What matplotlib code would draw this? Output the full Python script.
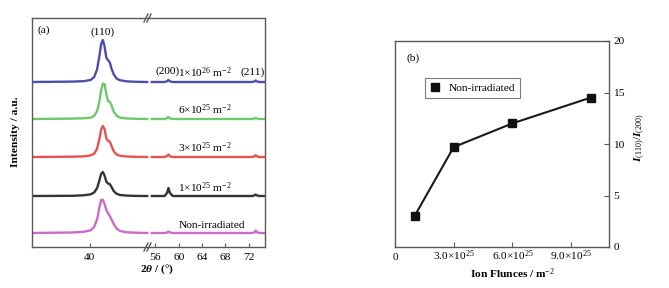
import matplotlib
matplotlib.use("Agg")
import matplotlib.pyplot as plt
from matplotlib.lines import Line2D

plt.rcParams['font.family'] = ['Liberation Serif', 'DejaVu Serif']
plt.rcParams['mathtext.fontset'] = 'custom'
plt.rcParams['mathtext.rm'] = 'Liberation Serif'
plt.rcParams['mathtext.it'] = 'Liberation Serif:italic'
plt.rcParams['mathtext.bf'] = 'Liberation Serif:bold'
plt.rcParams['mathtext.bfit'] = 'Liberation Serif:italic:bold'

# ---------------- data: panel (a) XRD patterns ----------------
two_theta_left = [30, 37, 39, 40.2, 40.8, 41.3, 41.7, 42.0, 42.3, 42.6, 42.9, 43.2,
                  43.5, 43.8, 44.2, 44.7, 45.3, 46.5, 48, 50]
two_theta_right = [55.4, 57.6, 58.0, 58.25, 58.5, 59.0, 72.6, 73.0, 73.2, 73.4, 73.8, 74.8]

series_names = ["1×10$^{26}$ m$^{-2}$", "6×10$^{25}$ m$^{-2}$", "3×10$^{25}$ m$^{-2}$",
                "1×10$^{25}$ m$^{-2}$", "Non-irradiated"]

int_1e26_left = [0, 0.4, 0.8, 2.1, 5, 12.6, 26, 37.8, 42, 35.7, 24.4, 21.8, 19.7, 13.4, 7.6, 3.4, 1.7, 0.6, 0.2, 0]
int_6e25_left = [0, 0.4, 0.7, 1.4, 3.2, 7.9, 17.3, 28.8, 35.3, 34.9, 25.2, 18, 17.3, 13.7, 7.2, 3.2, 1.4, 0.5, 0.2, 0]
int_3e25_left = [0, 0.3, 0.6, 1.6, 3.4, 8.4, 18, 27.3, 31, 27.9, 18.6, 16.1, 15.5, 11.2, 5.6, 2.5, 1.2, 0.5, 0.2, 0]
int_1e25_left = [0, 0.2, 0.7, 1.7, 3.6, 7.9, 15.6, 22.1, 24, 20.4, 14.4, 12.5, 12, 9.1, 4.8, 2.2, 1, 0.4, 0.1, 0]
int_non_left = [0, 0.5, 1.2, 2.7, 6.1, 13.6, 25.5, 33, 33.3, 28.9, 23.1, 19.7, 17, 13.6, 8.8, 4.4, 2, 0.7, 0.3, 0]

int_1e26_right = [0, 0, 0.8, 2, 0.6, 0, 0, 0.6, 1.5, 0.6, 0, 0]
int_6e25_right = [0, 0, 0.8, 2, 0.6, 0, 0, 0.5, 1.2, 0.5, 0, 0]
int_3e25_right = [0, 0, 1.0, 2.5, 0.8, 0, 0, 0.7, 1.8, 0.7, 0, 0]
int_1e25_right = [0, 0, 3.0, 8.0, 3.0, 0, 0, 0.6, 1.5, 0.6, 0, 0]
int_non_right = [0, 0, 0.5, 1.5, 0.5, 0, 0, 0.8, 2.5, 0.8, 0, 0]

offsets = [165, 128, 90, 51, 14]

ticks_left = [40]
ticks_right = [56, 60, 64, 68, 72]

# ---------------- data: panel (b) ratio ----------------
fluence = [1e25, 3e25, 6e25, 1e26]
ratio = [3.0, 9.7, 12.0, 14.5]
b_xticks = [0, 3e25, 6e25, 9e25]
b_xticklabels = ["0", "3.0×10$^{25}$", "6.0×10$^{25}$", "9.0×10$^{25}$"]
b_yticks = [0, 5, 10, 15, 20]

# ---------------- styling ----------------
W, H = 669, 288
fig = plt.figure(figsize=(W / 100, H / 100), dpi=100)

def fx(px):
    return px / W

def fy(py):
    return 1 - py / H

colors = ["#3b3aa6", "#5ec35a", "#e0413e", "#1e1e1e", "#c55cc0"]
spine_col = "#5a5a5a"
fs = 8.2

axL = fig.add_axes([fx(32), fy(247), fx(149.5 - 32), (247 - 18) / H])
axR = fig.add_axes([fx(149.5), fy(247), fx(265 - 149.5), (247 - 18) / H])

lefts = [int_1e26_left, int_6e25_left, int_3e25_left, int_1e25_left, int_non_left]
rights = [int_1e26_right, int_6e25_right, int_3e25_right, int_1e25_right, int_non_right]
for yl, yr, off, c in zip(lefts, rights, offsets, colors):
    axL.plot(two_theta_left, [v + off for v in yl], color=c, lw=1.7, alpha=0.9)
    axR.plot(two_theta_right, [v + off for v in yr], color=c, lw=1.7, alpha=0.9)

axL.set_xlim(30, 50.4)
axR.set_xlim(55.0, 74.8)
for ax in (axL, axR):
    ax.set_ylim(0, 229)
    ax.set_yticks([])
    for s in ax.spines.values():
        s.set_color(spine_col)
        s.set_linewidth(1.0)
    ax.tick_params(axis='x', direction='in', length=3, width=0.8, color=spine_col,
                   labelsize=fs, pad=4)
axL.spines['right'].set_visible(False)
axR.spines['left'].set_visible(False)
axL.set_xticks(ticks_left)
axR.set_xticks(ticks_right)

# break marks
for yb in (18, 247):
    for dx in (-2, 1):
        fig.add_artist(Line2D([fx(146 + dx), fx(150 + dx)], [fy(yb + 4), fy(yb - 4)],
                              color=spine_col, lw=1.0))

fig.text(fx(37), fy(30), "(a)", fontsize=fs, ha='left', va='center')
fig.text(fx(103), fy(32), "(110)", fontsize=fs, ha='center', va='center')
fig.text(fx(168), fy(71), "(200)", fontsize=fs, ha='center', va='center')
fig.text(fx(253), fy(72), "(211)", fontsize=fs, ha='center', va='center')
label_pos = [(205, 73), (205, 110), (205, 148), (205, 188), (212, 225)]
for name, (px, py) in zip(series_names, label_pos):
    fig.text(fx(px), fy(py), name, fontsize=fs, ha='center', va='center')

fig.text(fx(15), fy(132), "Intensity / a.u.", fontsize=fs, fontweight='bold',
         rotation=90, ha='center', va='center')
fig.text(fx(157), fy(269), r"$\mathbf{2}\mathbfit{\theta}\mathbf{\ /\ (°)}$", fontsize=fs,
         ha='center', va='center')

# ---------------- panel (b) ----------------
axb = fig.add_axes([fx(395), fy(247), fx(609 - 395), (247 - 41) / H])
axb.plot(fluence, ratio, color='#1a1a1a', lw=1.5, marker='s', markersize=6,
         markerfacecolor='#111111', markeredgecolor='#111111', label='Non-irradiated')
axb.set_xlim(0, 1.094e26)
axb.set_ylim(0, 20)
axb.set_xticks(b_xticks, b_xticklabels)
axb.set_yticks(b_yticks)
axb.yaxis.tick_right()
axb.yaxis.set_label_position('right')
for s in axb.spines.values():
    s.set_color(spine_col)
    s.set_linewidth(1.0)
axb.tick_params(axis='both', direction='in', length=3.5, width=0.8, color=spine_col,
                labelsize=fs)
axb.tick_params(axis='x', pad=9.5)
axb.tick_params(axis='y', pad=3)
for lbl in axb.get_xticklabels():
    lbl.set_va('baseline')
leg = axb.legend(loc='upper left', bbox_to_anchor=((425 - 395) / 214, (247 - 78) / 206),
                 fontsize=fs, frameon=True, fancybox=False, edgecolor=spine_col,
                 handlelength=0.8, handletextpad=0.8, borderpad=0.45, borderaxespad=0,
                 markerscale=0.9)
leg.get_frame().set_linewidth(0.8)
for h in leg.legend_handles:
    h.set_linestyle('none')
fig.text(fx(413), fy(58), "(b)", fontsize=fs, ha='center', va='center')
fig.text(fx(513), fy(274), "Ion Flunces / m$^{-2}$", fontsize=fs, fontweight='bold',
         ha='center', va='center')
fig.text(fx(640), fy(138), r"$\mathbfit{I}_{(110)}/\mathbfit{I}_{(200)}$", fontsize=fs,
         rotation=90, ha='center', va='center')

fig.savefig("out.png", dpi=100)
